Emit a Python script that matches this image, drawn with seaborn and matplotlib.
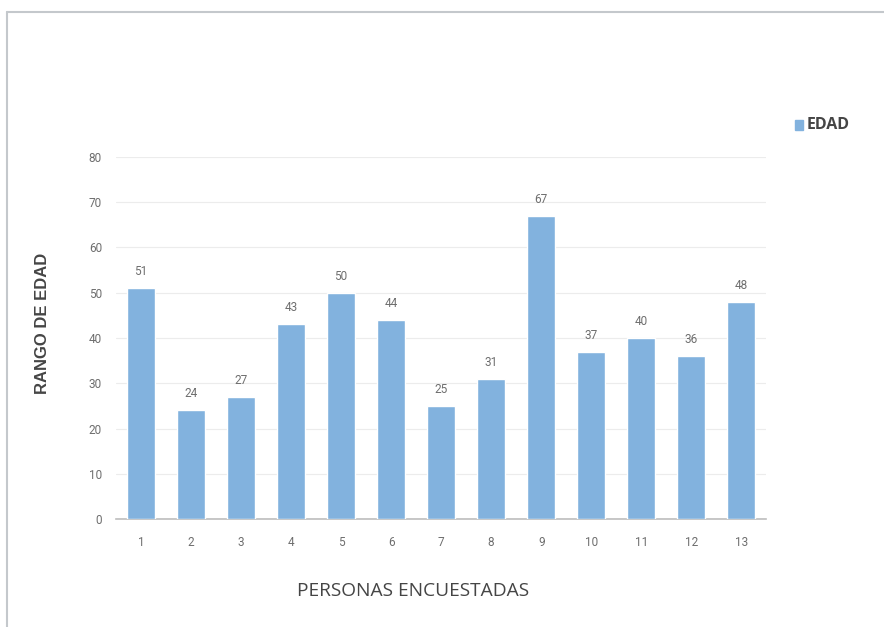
import matplotlib
matplotlib.use("Agg")
import matplotlib.pyplot as plt
import matplotlib.lines as mlines
import seaborn as sns
import pandas as pd

personas = ["1", "2", "3", "4", "5", "6", "7", "8", "9", "10", "11", "12", "13"]
edad = [51, 24, 27, 43, 50, 44, 25, 31, 67, 37, 40, 36, 48]
y_ticks = [0, 10, 20, 30, 40, 50, 60, 70, 80]

df = pd.DataFrame({"persona": personas, "edad": edad})

sns.set_theme(style="white")
plt.rcParams["font.family"] = ["Open Sans", "DejaVu Sans"]

bar_color = "#82b2de"
tick_color = "#6e6e6e"
label_color = "#454545"
num_font = ["Roboto", "DejaVu Sans"]

fig = plt.figure(figsize=(8.84, 6.27), dpi=100)
ax = fig.add_axes([0.131, 0.172, 0.736, 0.578])

sns.barplot(data=df, x="persona", y="edad", color=bar_color, width=0.56,
            saturation=1, ax=ax, zorder=3)

ax.set_ylim(0, 80)
ax.set_xlim(-0.5, len(personas) - 0.5)
ax.set_yticks(y_ticks)
ax.set_yticklabels([str(t) for t in y_ticks], fontsize=8.5, color=tick_color,
                   family=num_font)
ax.set_xticks(range(len(personas)))
ax.set_xticklabels(personas, fontsize=8.5, color=tick_color, family=num_font)
ax.tick_params(axis="both", length=0, pad=12)
ax.tick_params(axis="y", pad=10)

ax.grid(axis="y", color="#ececec", linewidth=0.8, zorder=0)
for side in ["top", "right", "left"]:
    ax.spines[side].set_visible(False)
ax.spines["bottom"].set_color("#bdbdbd")
ax.spines["bottom"].set_linewidth(1.2)

for i, v in enumerate(edad):
    ax.text(i, v + 2.2, str(v), ha="center", va="bottom", fontsize=8.5,
            color=tick_color, family=num_font)

ax.set_xlabel("")
ax.set_ylabel("")
fig.text(0.467, 0.057, "PERSONAS ENCUESTADAS", ha="center", va="center",
         fontsize=13.8, color=label_color)
fig.text(0.048, 0.485, "RANGO DE EDAD", ha="center", va="center", rotation=90,
         fontsize=12, fontweight="bold", color=label_color,
         family=["Liberation Sans", "DejaVu Sans"])

# legend
fig.patches.append(plt.Rectangle((0.899, 0.793), 0.0095, 0.015,
                                 transform=fig.transFigure, color=bar_color))
fig.text(0.912, 0.801, "EDAD", ha="left", va="center", fontsize=11.5,
         fontweight="bold", color=label_color,
         family=["Open Sans", "DejaVu Sans"])

# outer frame lines
fig.add_artist(mlines.Line2D([0.008, 1.0], [0.981, 0.981], transform=fig.transFigure,
                             color="#c4c8cc", linewidth=1.5))
fig.add_artist(mlines.Line2D([0.008, 0.008], [0.0, 0.981], transform=fig.transFigure,
                             color="#c4c8cc", linewidth=1.5))

fig.savefig("out.png", dpi=100, facecolor="white")
